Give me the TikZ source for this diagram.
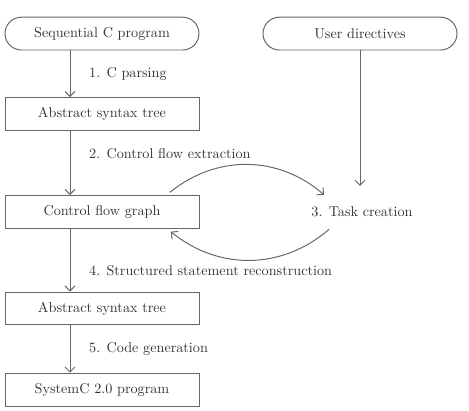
\documentclass[tikz,border=0pt]{standalone}
\usetikzlibrary{arrows.meta}
\tikzset{
    box/.style={draw=black!60,line width=0.7pt,minimum width=4.85cm,minimum height=0.82cm,inner sep=0pt,text=black!80},
    startbox/.style={box,rounded corners=0.41cm},
    flow/.style={draw=black!60,line width=0.7pt,-{Straight Barb[length=3.5pt,width=7pt]}},
    steplabel/.style={text=black!80,anchor=west,xshift=0.35cm}
}
\begin{document}
\begin{tikzpicture}[font=\fontsize{10.1}{12}\selectfont]
        \useasboundingbox (0,0) rectangle (11.725,10.25);
        \coordinate (col) at (1.75,0);
        \node[startbox] (seq) at (2.55,9.41) {Sequential C program};
        \node[startbox] (user) at (9.0,9.41) {User directives};
        \node[box] (ast1) at (2.55,7.4) {Abstract syntax tree};
        \node[box] (cfg) at (2.55,4.95) {Control flow graph};
        \node[box] (ast2) at (2.55,2.54) {Abstract syntax tree};
        \node[box] (sysc) at (2.55,0.51) {SystemC 2.0 program};
        \node[text=black!80] (task) at (9.05,4.95) {3. Task creation};
        \coordinate (taskin) at ([yshift=0.4cm]task.north);
        \draw[flow] (seq.south -| col) -- node[steplabel] {1. C parsing} (ast1.north -| col);
        \draw[flow] (ast1.south -| col) -- node[steplabel,pos=0.36] {2. Control flow extraction} (cfg.north -| col);
        \draw[flow] (cfg.south -| col) -- node[steplabel,pos=0.67] {4. Structured statement reconstruction} (ast2.north -| col);
        \draw[flow] (ast2.south -| col) -- node[steplabel] {5. Code generation} (sysc.north -| col);
        \draw[flow] (user.south) -- (user.south |- taskin);
        \draw[flow] ([xshift=1.7cm,yshift=2pt]cfg.north) to[bend left=40] ([xshift=-0.95cm,yshift=0.43cm]task.center);
        \draw[flow] ([xshift=-0.82cm,yshift=-0.43cm]task.center) to[bend left=40] ([xshift=1.72cm,yshift=-2pt]cfg.south);
\end{tikzpicture}
\end{document}
